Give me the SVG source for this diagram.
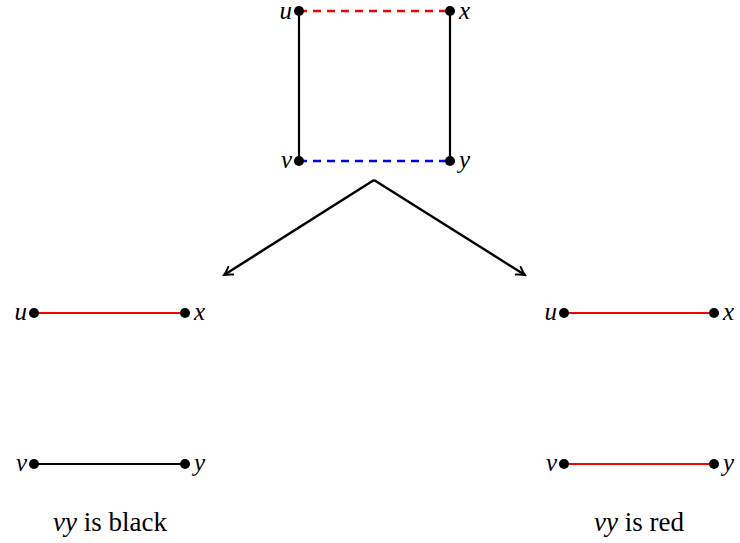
<svg xmlns="http://www.w3.org/2000/svg" width="740" height="543" viewBox="0 0 740 543">
<defs>
<marker id="ah" viewBox="0 0 12 12" refX="10" refY="6" markerWidth="12" markerHeight="12" markerUnits="userSpaceOnUse" orient="auto">
<path d="M2,1.5 Q6,4.5 10,6 Q6,7.5 2,10.5" fill="none" stroke="#000" stroke-width="2" stroke-linecap="round"/>
</marker>
</defs>
<rect width="740" height="543" fill="#fff"/>
<g id="connectors" fill="none" stroke-width="2.2">
<line x1="299" y1="11" x2="299" y2="161" stroke="#000"/>
<line x1="450" y1="11" x2="450" y2="161" stroke="#000"/>
<line x1="299" y1="11" x2="450" y2="11" stroke="#f00" stroke-width="2.6" stroke-dasharray="8,6"/>
<line x1="299" y1="161" x2="450" y2="161" stroke="#00f" stroke-width="2.6" stroke-dasharray="8,6"/>
<line x1="374" y1="180" x2="224" y2="275" stroke="#000" stroke-width="2.4" marker-end="url(#ah)"/>
<line x1="374" y1="180" x2="525" y2="275" stroke="#000" stroke-width="2.4" marker-end="url(#ah)"/>
<line x1="34" y1="313" x2="185" y2="313" stroke="#f00"/>
<line x1="34" y1="464" x2="185" y2="464" stroke="#000"/>
<line x1="564" y1="313" x2="714" y2="313" stroke="#f00"/>
<line x1="564" y1="464" x2="714" y2="464" stroke="#f00"/>
</g>
<g id="top-u"><circle cx="299" cy="11" r="5"/><text x="292" y="19" text-anchor="end" style="font-family:'Liberation Serif',serif;font-style:italic;font-size:25px">u</text></g>
<g id="top-x"><circle cx="450" cy="11" r="5"/><text x="459" y="19" style="font-family:'Liberation Serif',serif;font-style:italic;font-size:25px">x</text></g>
<g id="top-v"><circle cx="299" cy="161" r="5"/><text x="292" y="168" text-anchor="end" style="font-family:'Liberation Serif',serif;font-style:italic;font-size:25px">v</text></g>
<g id="top-y"><circle cx="450" cy="161" r="5"/><text x="459" y="168" style="font-family:'Liberation Serif',serif;font-style:italic;font-size:25px">y</text></g>
<g id="left-u"><circle cx="34" cy="313" r="5"/><text x="27" y="320" text-anchor="end" style="font-family:'Liberation Serif',serif;font-style:italic;font-size:25px">u</text></g>
<g id="left-x"><circle cx="185" cy="313" r="5"/><text x="194" y="320" style="font-family:'Liberation Serif',serif;font-style:italic;font-size:25px">x</text></g>
<g id="left-v"><circle cx="34" cy="464" r="5"/><text x="27" y="471" text-anchor="end" style="font-family:'Liberation Serif',serif;font-style:italic;font-size:25px">v</text></g>
<g id="left-y"><circle cx="185" cy="464" r="5"/><text x="194" y="471" style="font-family:'Liberation Serif',serif;font-style:italic;font-size:25px">y</text></g>
<g id="right-u"><circle cx="564" cy="313" r="5"/><text x="557" y="320" text-anchor="end" style="font-family:'Liberation Serif',serif;font-style:italic;font-size:25px">u</text></g>
<g id="right-x"><circle cx="714" cy="313" r="5"/><text x="723" y="320" style="font-family:'Liberation Serif',serif;font-style:italic;font-size:25px">x</text></g>
<g id="right-v"><circle cx="564" cy="464" r="5"/><text x="557" y="471" text-anchor="end" style="font-family:'Liberation Serif',serif;font-style:italic;font-size:25px">v</text></g>
<g id="right-y"><circle cx="714" cy="464" r="5"/><text x="723" y="471" style="font-family:'Liberation Serif',serif;font-style:italic;font-size:25px">y</text></g>
<g id="caption-left"><text x="110" y="531" text-anchor="middle" style="font-family:'Liberation Serif',serif;font-size:27px"><tspan style="font-style:italic">vy</tspan> is black</text></g>
<g id="caption-right"><text x="639" y="531" text-anchor="middle" style="font-family:'Liberation Serif',serif;font-size:27px"><tspan style="font-style:italic">vy</tspan> is red</text></g>
</svg>
